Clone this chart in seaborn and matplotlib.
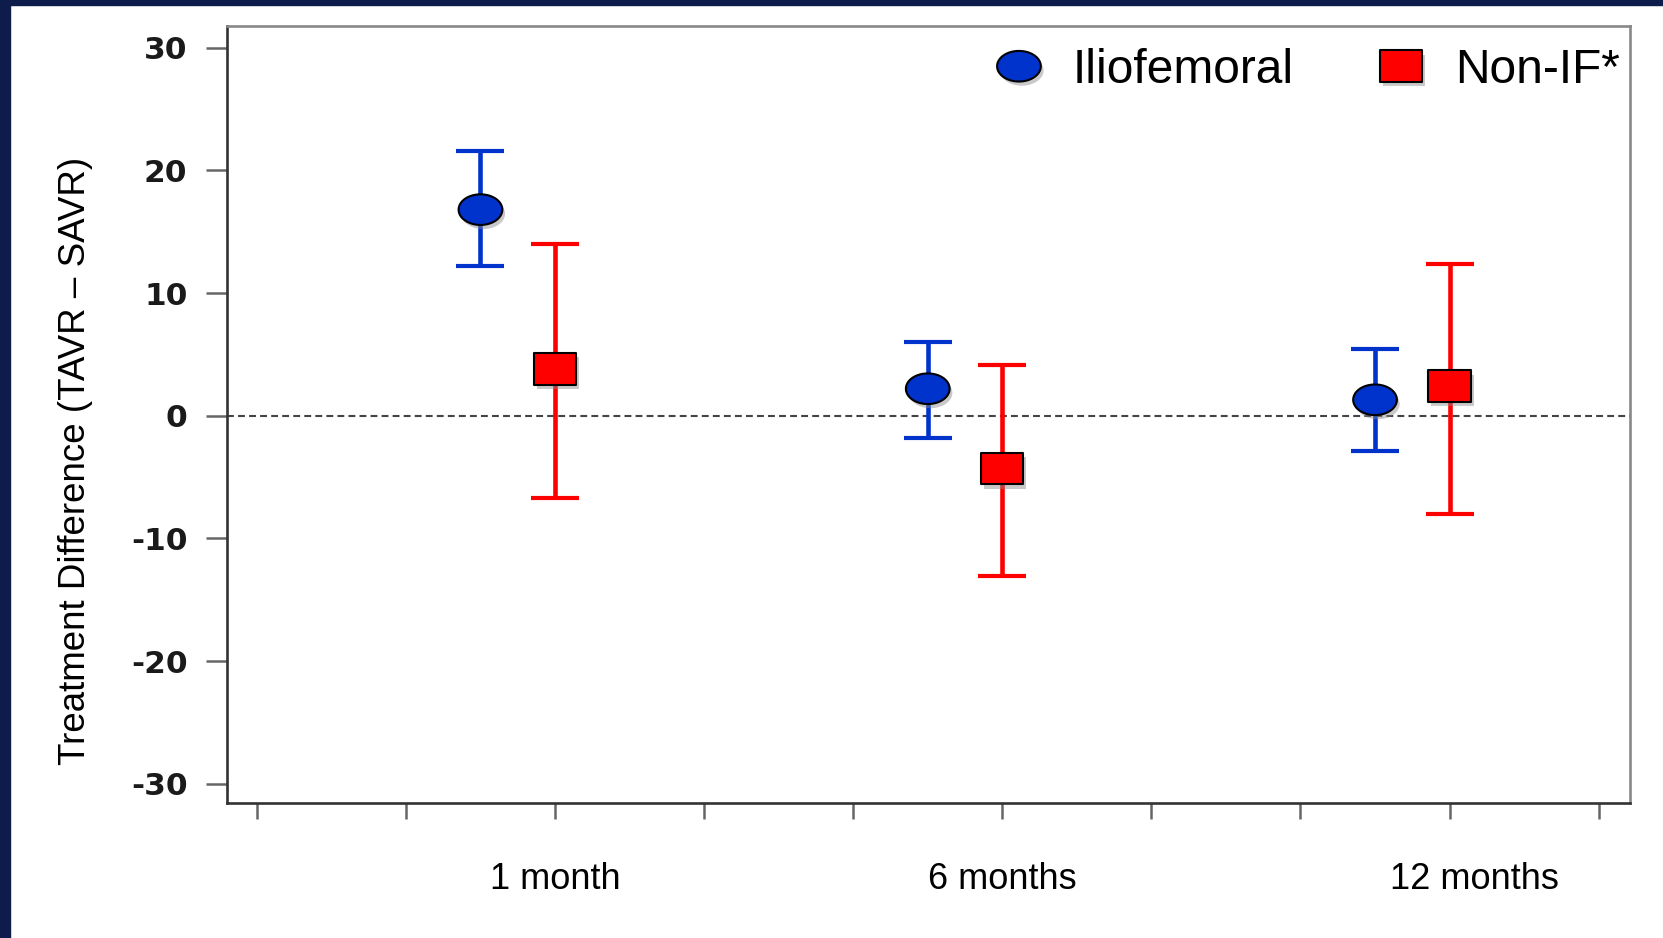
import numpy as np
import pandas as pd
import matplotlib
matplotlib.use('Agg')
import matplotlib.pyplot as plt
import matplotlib.patheffects as pe
import matplotlib.transforms as mtransforms
from matplotlib.path import Path
from matplotlib.markers import MarkerStyle
from matplotlib.lines import Line2D
from matplotlib.patches import Rectangle
import seaborn as sns

# values
periods = ['1 month', '6 months', '12 months']
groups = ['Iliofemoral', 'Non-IF*']
if_diff = [16.8, 2.2, 1.3]
if_lo = [12.2, -1.8, -2.9]
if_hi = [21.6, 6.0, 5.4]
nonif_diff = [3.8, -4.3, 2.4]
nonif_lo = [-6.7, -13.1, -8.0]
nonif_hi = [14.0, 4.1, 12.4]
yticks = [-30, -20, -10, 0, 10, 20, 30]

colors = {'Iliofemoral': '#0033cc', 'Non-IF*': '#ff0000'}

# build long table, periods sit on every third tick slot
rows = []
for i, p in enumerate(periods):
    slot = 2 + 3 * i
    rows.append([p, 'Iliofemoral', slot - 0.5, if_diff[i], if_lo[i], if_hi[i]])
    rows.append([p, 'Non-IF*', slot, nonif_diff[i], nonif_lo[i], nonif_hi[i]])
df = pd.DataFrame(rows, columns=['period', 'group', 'x', 'diff', 'lo', 'hi'])

sns.set_style('white')
plt.rcParams['font.family'] = ['Liberation Sans', 'DejaVu Sans']
plt.rcParams['axes.unicode_minus'] = False

# ellipse and flat square markers
t = np.linspace(0, 2 * np.pi, 60)
ellipse = MarkerStyle(Path(np.column_stack([np.cos(t), 0.7 * np.sin(t)]), closed=True))
rect = MarkerStyle(Path([(-1, -0.75), (1, -0.75), (1, 0.75), (-1, 0.75), (-1, -0.75)], closed=True))
markers = {'Iliofemoral': ellipse, 'Non-IF*': rect}
msize = {'Iliofemoral': 31.5, 'Non-IF*': 30.5}

fig = plt.figure(figsize=(16.63, 9.38), dpi=100)
ax = fig.add_axes([227 / 1663, 1 - 803 / 938, 1403 / 1663, 777 / 938])

ax.axhline(0, color='#444444', lw=1.5, ls=(0, (3.3, 2.0)), zorder=1)

shadow = [pe.SimplePatchShadow(offset=(2, -3), shadow_rgbFace='#888888', alpha=0.45), pe.Normal()]

for g in groups:
    sub = df[df['group'] == g]
    ax.errorbar(sub['x'], sub['diff'],
                yerr=[sub['diff'] - sub['lo'], sub['hi'] - sub['diff']],
                fmt='none', ecolor=colors[g], elinewidth=3.3, capsize=17, capthick=3.0, zorder=2)
    sns.scatterplot(data=sub, x='x', y='diff', ax=ax, marker=markers[g], s=msize[g] ** 2,
                    color=colors[g], edgecolor='black', linewidth=1.5, legend=False, zorder=3)
    ax.collections[-1].set_path_effects(shadow)

ax.set_xlim(-0.2, 9.21)
ax.set_ylim(-31.57, 31.77)
ax.set_xticks(range(10))
ax.set_xticklabels(['' if k not in (2, 5, 8) else periods[(k - 2) // 3] for k in range(10)])
ax.set_yticks(yticks)
ax.set_yticklabels([str(v) for v in yticks])

ax.tick_params(axis='x', bottom=True, direction='out', length=11.5, width=1.8, color='#666666',
               pad=31, labelsize=26, labelcolor='black')
ax.tick_params(axis='y', left=True, direction='out', length=15, width=1.8, color='#666666',
               pad=13.5, labelsize=22.5, labelcolor='#1a1a1a')
for lab in ax.get_yticklabels():
    lab.set_fontweight('bold')
    lab.set_fontfamily('DejaVu Sans')

# the last period label sits a little right of its tick in the original
last = ax.get_xticklabels()[8]
last.set_transform(last.get_transform() + mtransforms.ScaledTranslation(25 / 100, 0, fig.dpi_scale_trans))

for side in ['left', 'bottom']:
    ax.spines[side].set_color('#333333')
    ax.spines[side].set_linewidth(1.9)
for side in ['top', 'right']:
    ax.spines[side].set_color('#888888')
    ax.spines[side].set_linewidth(1.9)

ax.set_xlabel('')
ax.set_ylabel('Treatment Difference (TAVR \u2013 SAVR)', fontsize=26.5, color='black')
ax.yaxis.set_label_coords(-0.0955, 0.44)

handles = [Line2D([], [], marker=markers[g], markersize=msize[g], markerfacecolor=colors[g],
                  markeredgecolor='black', markeredgewidth=1.5, linestyle='none',
                  path_effects=shadow) for g in groups]
ax.legend(handles, groups, ncol=2, frameon=False, fontsize=34.5, handlelength=1.0,
          handletextpad=0.62, columnspacing=1.74, borderpad=0, borderaxespad=0,
          loc='upper left', bbox_to_anchor=(995 / 1663, 1 - 48 / 938),
          bbox_transform=fig.transFigure, labelcolor='black')

# navy frame strips of the slide
navy = '#0e1c4c'
fig.add_artist(Rectangle((0, 0), 10 / 1663, 1, transform=fig.transFigure, color=navy, zorder=10))
fig.add_artist(Rectangle((0, 1 - 5 / 938), 1, 5 / 938, transform=fig.transFigure, color=navy, zorder=10))

fig.savefig('out.png', dpi=100, facecolor='white')
